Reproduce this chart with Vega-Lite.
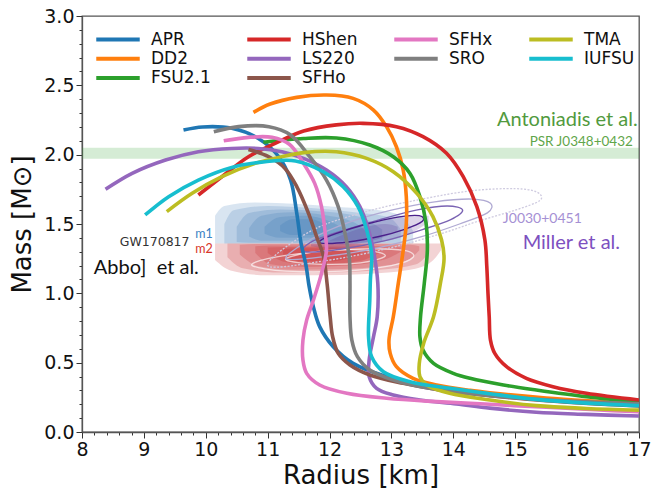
{
  "$schema": "https://vega.github.io/schema/vega-lite/v6.json",
  "width": 557,
  "height": 416,
  "autosize": {"type": "none"},
  "padding": {"left": 82, "top": 16, "right": 14, "bottom": 58},
  "background": "white",
  "datasets": {
    "eos": [
      {"e":"APR","i":0,"R":9.64,"M":2.178},{"e":"APR","i":1,"R":9.95,"M":2.2},{"e":"APR","i":2,"R":10.42,"M":2.19},{"e":"APR","i":3,"R":10.85,"M":2.117},{"e":"APR","i":4,"R":11.18,"M":1.985},{"e":"APR","i":5,"R":11.37,"M":1.817},{"e":"APR","i":6,"R":11.47,"M":1.577},{"e":"APR","i":7,"R":11.54,"M":1.36},{"e":"APR","i":8,"R":11.62,"M":1.2},{"e":"APR","i":9,"R":11.67,"M":1.05},{"e":"APR","i":10,"R":11.74,"M":0.9},{"e":"APR","i":11,"R":11.84,"M":0.76},{"e":"APR","i":12,"R":12.06,"M":0.615},{"e":"APR","i":13,"R":12.38,"M":0.495},{"e":"APR","i":14,"R":12.92,"M":0.399},{"e":"APR","i":15,"R":13.46,"M":0.339},{"e":"APR","i":16,"R":14.0,"M":0.303},{"e":"APR","i":17,"R":14.59,"M":0.267},{"e":"APR","i":18,"R":15.5,"M":0.235},{"e":"APR","i":19,"R":16.3,"M":0.212},{"e":"APR","i":20,"R":17.0,"M":0.196},
      {"e":"DD2","i":0,"R":10.77,"M":2.305},{"e":"DD2","i":1,"R":11.04,"M":2.365},{"e":"DD2","i":2,"R":11.47,"M":2.413},{"e":"DD2","i":3,"R":11.95,"M":2.43},{"e":"DD2","i":4,"R":12.38,"M":2.406},{"e":"DD2","i":5,"R":12.71,"M":2.322},{"e":"DD2","i":6,"R":12.92,"M":2.202},{"e":"DD2","i":7,"R":13.08,"M":2.057},{"e":"DD2","i":8,"R":13.19,"M":1.889},{"e":"DD2","i":9,"R":13.24,"M":1.697},{"e":"DD2","i":10,"R":13.24,"M":1.505},{"e":"DD2","i":11,"R":13.19,"M":1.31},{"e":"DD2","i":12,"R":13.11,"M":1.07},{"e":"DD2","i":13,"R":13.03,"M":0.831},{"e":"DD2","i":14,"R":12.96,"M":0.663},{"e":"DD2","i":15,"R":12.98,"M":0.567},{"e":"DD2","i":16,"R":13.08,"M":0.471},{"e":"DD2","i":17,"R":13.35,"M":0.387},{"e":"DD2","i":18,"R":13.73,"M":0.339},{"e":"DD2","i":19,"R":14.27,"M":0.3},{"e":"DD2","i":20,"R":14.59,"M":0.283},{"e":"DD2","i":21,"R":15.5,"M":0.245},{"e":"DD2","i":22,"R":16.3,"M":0.222},{"e":"DD2","i":23,"R":17.0,"M":0.205},
      {"e":"FSU2.1","i":0,"R":10.93,"M":2.09},{"e":"FSU2.1","i":1,"R":11.58,"M":2.117},{"e":"FSU2.1","i":2,"R":12.11,"M":2.12},{"e":"FSU2.1","i":3,"R":12.65,"M":2.07},{"e":"FSU2.1","i":4,"R":13.03,"M":1.985},{"e":"FSU2.1","i":5,"R":13.3,"M":1.865},{"e":"FSU2.1","i":6,"R":13.46,"M":1.697},{"e":"FSU2.1","i":7,"R":13.56,"M":1.505},{"e":"FSU2.1","i":8,"R":13.58,"M":1.31},{"e":"FSU2.1","i":9,"R":13.53,"M":1.07},{"e":"FSU2.1","i":10,"R":13.47,"M":0.831},{"e":"FSU2.1","i":11,"R":13.46,"M":0.687},{"e":"FSU2.1","i":12,"R":13.51,"M":0.591},{"e":"FSU2.1","i":13,"R":13.68,"M":0.495},{"e":"FSU2.1","i":14,"R":14.0,"M":0.423},{"e":"FSU2.1","i":15,"R":14.27,"M":0.387},{"e":"FSU2.1","i":16,"R":14.81,"M":0.339},{"e":"FSU2.1","i":17,"R":15.34,"M":0.303},{"e":"FSU2.1","i":18,"R":16.15,"M":0.255},{"e":"FSU2.1","i":19,"R":17.0,"M":0.219},
      {"e":"HShen","i":0,"R":9.88,"M":1.709},{"e":"HShen","i":1,"R":10.26,"M":1.841},{"e":"HShen","i":2,"R":10.69,"M":1.985},{"e":"HShen","i":3,"R":11.12,"M":2.081},{"e":"HShen","i":4,"R":11.58,"M":2.17},{"e":"HShen","i":5,"R":12.11,"M":2.215},{"e":"HShen","i":6,"R":12.54,"M":2.226},{"e":"HShen","i":7,"R":13.08,"M":2.202},{"e":"HShen","i":8,"R":13.51,"M":2.13},{"e":"HShen","i":9,"R":13.89,"M":2.01},{"e":"HShen","i":10,"R":14.16,"M":1.841},{"e":"HShen","i":11,"R":14.38,"M":1.625},{"e":"HShen","i":12,"R":14.51,"M":1.385},{"e":"HShen","i":13,"R":14.54,"M":1.2},{"e":"HShen","i":14,"R":14.56,"M":1.0},{"e":"HShen","i":15,"R":14.58,"M":0.831},{"e":"HShen","i":16,"R":14.6,"M":0.663},{"e":"HShen","i":17,"R":14.67,"M":0.567},{"e":"HShen","i":18,"R":14.86,"M":0.471},{"e":"HShen","i":19,"R":15.18,"M":0.387},{"e":"HShen","i":20,"R":15.61,"M":0.327},{"e":"HShen","i":21,"R":16.15,"M":0.279},{"e":"HShen","i":22,"R":17.0,"M":0.231},
      {"e":"LS220","i":0,"R":8.38,"M":1.75},{"e":"LS220","i":1,"R":8.81,"M":1.865},{"e":"LS220","i":2,"R":9.35,"M":1.961},{"e":"LS220","i":3,"R":9.88,"M":2.021},{"e":"LS220","i":4,"R":10.42,"M":2.045},{"e":"LS220","i":5,"R":10.85,"M":2.045},{"e":"LS220","i":6,"R":11.23,"M":2.021},{"e":"LS220","i":7,"R":11.58,"M":1.973},{"e":"LS220","i":8,"R":11.95,"M":1.889},{"e":"LS220","i":9,"R":12.27,"M":1.769},{"e":"LS220","i":10,"R":12.49,"M":1.625},{"e":"LS220","i":11,"R":12.63,"M":1.457},{"e":"LS220","i":12,"R":12.72,"M":1.28},{"e":"LS220","i":13,"R":12.78,"M":1.07},{"e":"LS220","i":14,"R":12.77,"M":0.831},{"e":"LS220","i":15,"R":12.71,"M":0.687},{"e":"LS220","i":16,"R":12.64,"M":0.519},{"e":"LS220","i":17,"R":12.64,"M":0.399},{"e":"LS220","i":18,"R":12.76,"M":0.315},{"e":"LS220","i":19,"R":13.03,"M":0.267},{"e":"LS220","i":20,"R":13.46,"M":0.231},{"e":"LS220","i":21,"R":14.05,"M":0.202},{"e":"LS220","i":22,"R":14.59,"M":0.172},{"e":"LS220","i":23,"R":15.34,"M":0.142},{"e":"LS220","i":24,"R":16.15,"M":0.127},{"e":"LS220","i":25,"R":17.0,"M":0.115},
      {"e":"SFHo","i":0,"R":10.69,"M":2.038},{"e":"SFHo","i":1,"R":11.02,"M":1.985},{"e":"SFHo","i":2,"R":11.28,"M":1.901},{"e":"SFHo","i":3,"R":11.47,"M":1.77},{"e":"SFHo","i":4,"R":11.66,"M":1.577},{"e":"SFHo","i":5,"R":11.79,"M":1.409},{"e":"SFHo","i":6,"R":11.9,"M":1.27},{"e":"SFHo","i":7,"R":11.96,"M":1.07},{"e":"SFHo","i":8,"R":12.01,"M":0.831},{"e":"SFHo","i":9,"R":12.05,"M":0.687},{"e":"SFHo","i":10,"R":12.14,"M":0.567},{"e":"SFHo","i":11,"R":12.33,"M":0.483},{"e":"SFHo","i":12,"R":12.65,"M":0.411},{"e":"SFHo","i":13,"R":13.19,"M":0.351},{"e":"SFHo","i":14,"R":13.73,"M":0.307},{"e":"SFHo","i":15,"R":14.59,"M":0.262},{"e":"SFHo","i":16,"R":15.5,"M":0.225},{"e":"SFHo","i":17,"R":16.3,"M":0.203},{"e":"SFHo","i":18,"R":17.0,"M":0.187},
      {"e":"SFHx","i":0,"R":10.29,"M":2.1},{"e":"SFHx","i":1,"R":10.69,"M":2.125},{"e":"SFHx","i":2,"R":11.07,"M":2.125},{"e":"SFHx","i":3,"R":11.35,"M":2.075},{"e":"SFHx","i":4,"R":11.58,"M":1.937},{"e":"SFHx","i":5,"R":11.76,"M":1.793},{"e":"SFHx","i":6,"R":11.87,"M":1.625},{"e":"SFHx","i":7,"R":11.93,"M":1.432},{"e":"SFHx","i":8,"R":11.95,"M":1.31},{"e":"SFHx","i":9,"R":11.87,"M":1.144},{"e":"SFHx","i":10,"R":11.74,"M":0.952},{"e":"SFHx","i":11,"R":11.63,"M":0.807},{"e":"SFHx","i":12,"R":11.57,"M":0.663},{"e":"SFHx","i":13,"R":11.57,"M":0.519},{"e":"SFHx","i":14,"R":11.63,"M":0.423},{"e":"SFHx","i":15,"R":11.84,"M":0.339},{"e":"SFHx","i":16,"R":12.28,"M":0.279},{"e":"SFHx","i":17,"R":12.92,"M":0.243},{"e":"SFHx","i":18,"R":13.73,"M":0.219},{"e":"SFHx","i":19,"R":14.59,"M":0.2},{"e":"SFHx","i":20,"R":15.5,"M":0.178},{"e":"SFHx","i":21,"R":16.3,"M":0.16},{"e":"SFHx","i":22,"R":17.0,"M":0.146},
      {"e":"SRO","i":0,"R":10.13,"M":2.165},{"e":"SRO","i":1,"R":10.53,"M":2.202},{"e":"SRO","i":2,"R":11.02,"M":2.202},{"e":"SRO","i":3,"R":11.36,"M":2.145},{"e":"SRO","i":4,"R":11.68,"M":1.985},{"e":"SRO","i":5,"R":11.95,"M":1.817},{"e":"SRO","i":6,"R":12.14,"M":1.625},{"e":"SRO","i":7,"R":12.25,"M":1.432},{"e":"SRO","i":8,"R":12.32,"M":1.25},{"e":"SRO","i":9,"R":12.33,"M":1.07},{"e":"SRO","i":10,"R":12.33,"M":0.831},{"e":"SRO","i":11,"R":12.36,"M":0.663},{"e":"SRO","i":12,"R":12.45,"M":0.543},{"e":"SRO","i":13,"R":12.65,"M":0.447},{"e":"SRO","i":14,"R":13.03,"M":0.375},{"e":"SRO","i":15,"R":13.62,"M":0.315},{"e":"SRO","i":16,"R":14.59,"M":0.262},{"e":"SRO","i":17,"R":15.5,"M":0.232},{"e":"SRO","i":18,"R":16.3,"M":0.215},{"e":"SRO","i":19,"R":17.0,"M":0.203},
      {"e":"TMA","i":0,"R":9.37,"M":1.589},{"e":"TMA","i":1,"R":9.78,"M":1.721},{"e":"TMA","i":2,"R":10.26,"M":1.841},{"e":"TMA","i":3,"R":10.8,"M":1.937},{"e":"TMA","i":4,"R":11.23,"M":1.985},{"e":"TMA","i":5,"R":11.58,"M":2.015},{"e":"TMA","i":6,"R":12.11,"M":2.021},{"e":"TMA","i":7,"R":12.6,"M":1.973},{"e":"TMA","i":8,"R":13.03,"M":1.877},{"e":"TMA","i":9,"R":13.41,"M":1.721},{"e":"TMA","i":10,"R":13.67,"M":1.553},{"e":"TMA","i":11,"R":13.81,"M":1.385},{"e":"TMA","i":12,"R":13.85,"M":1.25},{"e":"TMA","i":13,"R":13.79,"M":1.07},{"e":"TMA","i":14,"R":13.68,"M":0.831},{"e":"TMA","i":15,"R":13.52,"M":0.639},{"e":"TMA","i":16,"R":13.45,"M":0.495},{"e":"TMA","i":17,"R":13.46,"M":0.399},{"e":"TMA","i":18,"R":13.57,"M":0.339},{"e":"TMA","i":19,"R":13.94,"M":0.279},{"e":"TMA","i":20,"R":14.59,"M":0.231},{"e":"TMA","i":21,"R":15.34,"M":0.19},{"e":"TMA","i":22,"R":16.15,"M":0.17},{"e":"TMA","i":23,"R":17.0,"M":0.158},
      {"e":"IUFSU","i":0,"R":9.02,"M":1.565},{"e":"IUFSU","i":1,"R":9.4,"M":1.697},{"e":"IUFSU","i":2,"R":9.88,"M":1.817},{"e":"IUFSU","i":3,"R":10.42,"M":1.908},{"e":"IUFSU","i":4,"R":10.96,"M":1.949},{"e":"IUFSU","i":5,"R":11.45,"M":1.955},{"e":"IUFSU","i":6,"R":11.9,"M":1.877},{"e":"IUFSU","i":7,"R":12.22,"M":1.769},{"e":"IUFSU","i":8,"R":12.46,"M":1.625},{"e":"IUFSU","i":9,"R":12.6,"M":1.457},{"e":"IUFSU","i":10,"R":12.68,"M":1.28},{"e":"IUFSU","i":11,"R":12.66,"M":1.1},{"e":"IUFSU","i":12,"R":12.65,"M":0.95},{"e":"IUFSU","i":13,"R":12.63,"M":0.687},{"e":"IUFSU","i":14,"R":12.68,"M":0.543},{"e":"IUFSU","i":15,"R":12.87,"M":0.435},{"e":"IUFSU","i":16,"R":13.3,"M":0.363},{"e":"IUFSU","i":17,"R":13.95,"M":0.315},{"e":"IUFSU","i":18,"R":14.59,"M":0.276},{"e":"IUFSU","i":19,"R":15.34,"M":0.235},{"e":"IUFSU","i":20,"R":16.15,"M":0.208},{"e":"IUFSU","i":21,"R":17.0,"M":0.19}
    ],
    "blobs": [
      {"k":"m1","g":"b1","R":10.15,"lo":1.36,"hi":1.56},{"k":"m1","g":"b1","R":10.3,"lo":1.36,"hi":1.63},{"k":"m1","g":"b1","R":10.8,"lo":1.36,"hi":1.655},{"k":"m1","g":"b1","R":11.5,"lo":1.36,"hi":1.645},{"k":"m1","g":"b1","R":12.2,"lo":1.36,"hi":1.62},{"k":"m1","g":"b1","R":12.8,"lo":1.36,"hi":1.6},{"k":"m1","g":"b1","R":13.15,"lo":1.36,"hi":1.56},{"k":"m1","g":"b1","R":13.35,"lo":1.36,"hi":1.45},
      {"k":"m1","g":"b2","R":10.3,"lo":1.36,"hi":1.5},{"k":"m1","g":"b2","R":10.45,"lo":1.36,"hi":1.6},{"k":"m1","g":"b2","R":11.0,"lo":1.36,"hi":1.63},{"k":"m1","g":"b2","R":11.7,"lo":1.36,"hi":1.615},{"k":"m1","g":"b2","R":12.4,"lo":1.36,"hi":1.585},{"k":"m1","g":"b2","R":12.95,"lo":1.36,"hi":1.55},{"k":"m1","g":"b2","R":13.15,"lo":1.36,"hi":1.46},
      {"k":"m1","g":"b3","R":10.5,"lo":1.37,"hi":1.48},{"k":"m1","g":"b3","R":10.7,"lo":1.365,"hi":1.58},{"k":"m1","g":"b3","R":11.2,"lo":1.365,"hi":1.605},{"k":"m1","g":"b3","R":11.9,"lo":1.365,"hi":1.59},{"k":"m1","g":"b3","R":12.5,"lo":1.365,"hi":1.55},{"k":"m1","g":"b3","R":12.85,"lo":1.37,"hi":1.46},
      {"k":"m1","g":"b4","R":10.7,"lo":1.41,"hi":1.47},{"k":"m1","g":"b4","R":10.9,"lo":1.38,"hi":1.56},{"k":"m1","g":"b4","R":11.4,"lo":1.38,"hi":1.585},{"k":"m1","g":"b4","R":11.9,"lo":1.38,"hi":1.565},{"k":"m1","g":"b4","R":12.4,"lo":1.38,"hi":1.51},{"k":"m1","g":"b4","R":12.6,"lo":1.4,"hi":1.44},
      {"k":"m1","g":"b5","R":10.95,"lo":1.43,"hi":1.48},{"k":"m1","g":"b5","R":11.2,"lo":1.4,"hi":1.55},{"k":"m1","g":"b5","R":11.6,"lo":1.4,"hi":1.56},{"k":"m1","g":"b5","R":12.0,"lo":1.41,"hi":1.52},{"k":"m1","g":"b5","R":12.25,"lo":1.43,"hi":1.46},
      {"k":"m1","g":"b6","R":11.2,"lo":1.45,"hi":1.49},{"k":"m1","g":"b6","R":11.4,"lo":1.42,"hi":1.535},{"k":"m1","g":"b6","R":11.7,"lo":1.42,"hi":1.535},{"k":"m1","g":"b6","R":11.95,"lo":1.44,"hi":1.49},
      {"k":"m2","g":"r1","R":10.15,"lo":1.24,"hi":1.36},{"k":"m2","g":"r1","R":10.4,"lo":1.165,"hi":1.36},{"k":"m2","g":"r1","R":11.0,"lo":1.13,"hi":1.36},{"k":"m2","g":"r1","R":11.8,"lo":1.13,"hi":1.36},{"k":"m2","g":"r1","R":12.6,"lo":1.14,"hi":1.36},{"k":"m2","g":"r1","R":13.3,"lo":1.17,"hi":1.36},{"k":"m2","g":"r1","R":13.65,"lo":1.23,"hi":1.36},{"k":"m2","g":"r1","R":13.8,"lo":1.31,"hi":1.36},
      {"k":"m2","g":"r2","R":10.35,"lo":1.26,"hi":1.36},{"k":"m2","g":"r2","R":10.6,"lo":1.18,"hi":1.36},{"k":"m2","g":"r2","R":11.2,"lo":1.15,"hi":1.36},{"k":"m2","g":"r2","R":12.0,"lo":1.15,"hi":1.36},{"k":"m2","g":"r2","R":12.8,"lo":1.17,"hi":1.36},{"k":"m2","g":"r2","R":13.4,"lo":1.21,"hi":1.36},{"k":"m2","g":"r2","R":13.6,"lo":1.29,"hi":1.36},
      {"k":"m2","g":"r3","R":10.55,"lo":1.28,"hi":1.35},{"k":"m2","g":"r3","R":10.85,"lo":1.195,"hi":1.355},{"k":"m2","g":"r3","R":11.4,"lo":1.17,"hi":1.355},{"k":"m2","g":"r3","R":12.2,"lo":1.175,"hi":1.355},{"k":"m2","g":"r3","R":12.9,"lo":1.2,"hi":1.355},{"k":"m2","g":"r3","R":13.3,"lo":1.25,"hi":1.35},{"k":"m2","g":"r3","R":13.45,"lo":1.31,"hi":1.34},
      {"k":"m2","g":"r4","R":10.8,"lo":1.29,"hi":1.34},{"k":"m2","g":"r4","R":11.05,"lo":1.21,"hi":1.345},{"k":"m2","g":"r4","R":11.6,"lo":1.19,"hi":1.345},{"k":"m2","g":"r4","R":12.3,"lo":1.2,"hi":1.345},{"k":"m2","g":"r4","R":12.9,"lo":1.245,"hi":1.34},{"k":"m2","g":"r4","R":13.15,"lo":1.3,"hi":1.33},
      {"k":"m2","g":"r5","R":11.0,"lo":1.29,"hi":1.33},{"k":"m2","g":"r5","R":11.3,"lo":1.225,"hi":1.335},{"k":"m2","g":"r5","R":11.9,"lo":1.21,"hi":1.335},{"k":"m2","g":"r5","R":12.5,"lo":1.235,"hi":1.33},{"k":"m2","g":"r5","R":12.8,"lo":1.29,"hi":1.32},
      {"k":"m2","g":"r6","R":11.25,"lo":1.28,"hi":1.32},{"k":"m2","g":"r6","R":11.5,"lo":1.235,"hi":1.325},{"k":"m2","g":"r6","R":12.0,"lo":1.23,"hi":1.325},{"k":"m2","g":"r6","R":12.35,"lo":1.26,"hi":1.315},{"k":"m2","g":"r6","R":12.5,"lo":1.29,"hi":1.31},
      {"k":"nicer","g":"p1","R":11.7,"lo":1.34,"hi":1.36},{"k":"nicer","g":"p1","R":12.1,"lo":1.32,"hi":1.43},{"k":"nicer","g":"p1","R":12.7,"lo":1.36,"hi":1.51},{"k":"nicer","g":"p1","R":13.3,"lo":1.43,"hi":1.56},{"k":"nicer","g":"p1","R":13.6,"lo":1.51,"hi":1.56},
      {"k":"nicer","g":"p2","R":11.95,"lo":1.36,"hi":1.37},{"k":"nicer","g":"p2","R":12.25,"lo":1.35,"hi":1.43},{"k":"nicer","g":"p2","R":12.6,"lo":1.37,"hi":1.48},{"k":"nicer","g":"p2","R":12.9,"lo":1.41,"hi":1.5},{"k":"nicer","g":"p2","R":13.1,"lo":1.45,"hi":1.48}
    ],
    "contours": [
      {"c":"J1","i":0,"R":11.9,"M":1.36},{"c":"J1","i":1,"R":12.3,"M":1.37},{"c":"J1","i":2,"R":12.8,"M":1.41},{"c":"J1","i":3,"R":13.2,"M":1.46},{"c":"J1","i":4,"R":13.5,"M":1.52},{"c":"J1","i":5,"R":13.45,"M":1.56},{"c":"J1","i":6,"R":13.1,"M":1.55},{"c":"J1","i":7,"R":12.6,"M":1.5},{"c":"J1","i":8,"R":12.1,"M":1.43},{"c":"J1","i":9,"R":11.85,"M":1.38},
      {"c":"J2","i":0,"R":11.6,"M":1.3},{"c":"J2","i":1,"R":12.2,"M":1.32},{"c":"J2","i":2,"R":12.9,"M":1.38},{"c":"J2","i":3,"R":13.5,"M":1.46},{"c":"J2","i":4,"R":13.95,"M":1.53},{"c":"J2","i":5,"R":14.15,"M":1.6},{"c":"J2","i":6,"R":13.9,"M":1.63},{"c":"J2","i":7,"R":13.4,"M":1.6},{"c":"J2","i":8,"R":12.8,"M":1.53},{"c":"J2","i":9,"R":12.2,"M":1.45},{"c":"J2","i":10,"R":11.7,"M":1.37},
      {"c":"J3","i":0,"R":11.3,"M":1.25},{"c":"J3","i":1,"R":12.0,"M":1.27},{"c":"J3","i":2,"R":12.8,"M":1.33},{"c":"J3","i":3,"R":13.5,"M":1.41},{"c":"J3","i":4,"R":14.1,"M":1.5},{"c":"J3","i":5,"R":14.55,"M":1.58},{"c":"J3","i":6,"R":14.6,"M":1.65},{"c":"J3","i":7,"R":14.3,"M":1.68},{"c":"J3","i":8,"R":13.7,"M":1.66},{"c":"J3","i":9,"R":13.0,"M":1.6},{"c":"J3","i":10,"R":12.3,"M":1.51},{"c":"J3","i":11,"R":11.7,"M":1.39},
      {"c":"J4","i":0,"R":11.0,"M":1.2},{"c":"J4","i":1,"R":12.0,"M":1.24},{"c":"J4","i":2,"R":13.0,"M":1.33},{"c":"J4","i":3,"R":13.8,"M":1.43},{"c":"J4","i":4,"R":14.4,"M":1.52},{"c":"J4","i":5,"R":15.0,"M":1.6},{"c":"J4","i":6,"R":15.4,"M":1.67},{"c":"J4","i":7,"R":15.35,"M":1.73},{"c":"J4","i":8,"R":15.0,"M":1.755},{"c":"J4","i":9,"R":14.3,"M":1.74},{"c":"J4","i":10,"R":13.5,"M":1.68},{"c":"J4","i":11,"R":12.6,"M":1.59},{"c":"J4","i":12,"R":11.7,"M":1.45},
      {"c":"W1","i":0,"R":10.75,"M":1.2},{"c":"W1","i":1,"R":11.3,"M":1.16},{"c":"W1","i":2,"R":12.2,"M":1.16},{"c":"W1","i":3,"R":13.0,"M":1.2},{"c":"W1","i":4,"R":13.35,"M":1.26},{"c":"W1","i":5,"R":13.2,"M":1.31},{"c":"W1","i":6,"R":12.5,"M":1.32},{"c":"W1","i":7,"R":11.6,"M":1.29},{"c":"W1","i":8,"R":11.0,"M":1.25},
      {"c":"W2","i":0,"R":11.3,"M":1.24},{"c":"W2","i":1,"R":11.8,"M":1.21},{"c":"W2","i":2,"R":12.5,"M":1.22},{"c":"W2","i":3,"R":12.9,"M":1.27},{"c":"W2","i":4,"R":12.6,"M":1.31},{"c":"W2","i":5,"R":12.0,"M":1.31},{"c":"W2","i":6,"R":11.5,"M":1.28}
    ]
  },
  "resolve": {"axis": {"x": "independent", "y": "independent"}},
  "layer": [
    {
      "data": {"values": [{"lo": 1.97, "hi": 2.05}]},
      "mark": {"type": "rect", "color": "#2ca02c", "opacity": 0.2},
      "encoding": {
        "y": {"field": "lo", "type": "quantitative", "scale": {"domain": [0, 3], "nice": false}, "axis": null},
        "y2": {"field": "hi"}
      }
    },
    {
      "data": {"name": "blobs"},
      "transform": [{"filter": "datum.k === 'm1'"}],
      "mark": {"type": "area", "color": "#2c6fb0", "interpolate": "monotone"},
      "encoding": {
        "x": {
          "field": "R", "type": "quantitative", "scale": {"domain": [8, 17], "nice": false},
          "axis": {
            "orient": "bottom", "title": null, "labels": false, "domain": false, "tickSize": 3,
            "values": [8.2, 8.4, 8.6, 8.8, 9.2, 9.4, 9.6, 9.8, 10.2, 10.4, 10.6, 10.8, 11.2, 11.4, 11.6, 11.8, 12.2, 12.4, 12.6, 12.8, 13.2, 13.4, 13.6, 13.8, 14.2, 14.4, 14.6, 14.8, 15.2, 15.4, 15.6, 15.8, 16.2, 16.4, 16.6, 16.8]
          }
        },
        "y": {
          "field": "hi", "type": "quantitative",
          "axis": {
            "orient": "left", "title": null, "labels": false, "domain": false, "tickSize": 3,
            "values": [0.1, 0.2, 0.3, 0.4, 0.6, 0.7, 0.8, 0.9, 1.1, 1.2, 1.3, 1.4, 1.6, 1.7, 1.8, 1.9, 2.1, 2.2, 2.3, 2.4, 2.6, 2.7, 2.8, 2.9]
          }
        },
        "y2": {"field": "lo"},
        "detail": {"field": "g"},
        "opacity": {
          "field": "g", "type": "nominal", "legend": null,
          "scale": {
            "domain": ["b1", "b2", "b3", "b4", "b5", "b6", "r1", "r2", "r3", "r4", "r5", "r6", "p1", "p2"],
            "range": [0.18, 0.2, 0.25, 0.3, 0.35, 0.4, 0.18, 0.2, 0.25, 0.3, 0.35, 0.4, 0.3, 0.45]
          }
        }
      }
    },
    {
      "data": {"name": "blobs"},
      "transform": [{"filter": "datum.k === 'm2'"}],
      "mark": {"type": "area", "color": "#c0161c", "interpolate": "monotone"},
      "encoding": {
        "x": {"field": "R", "type": "quantitative", "axis": null},
        "y": {"field": "hi", "type": "quantitative", "axis": null},
        "y2": {"field": "lo"},
        "detail": {"field": "g"},
        "opacity": {"field": "g", "type": "nominal", "legend": null}
      }
    },
    {
      "data": {"name": "blobs"},
      "transform": [{"filter": "datum.k === 'nicer'"}],
      "mark": {"type": "area", "color": "#54278f", "interpolate": "monotone"},
      "encoding": {
        "x": {"field": "R", "type": "quantitative", "axis": null},
        "y": {"field": "hi", "type": "quantitative", "axis": null},
        "y2": {"field": "lo"},
        "detail": {"field": "g"},
        "opacity": {"field": "g", "type": "nominal", "legend": null}
      }
    },
    {
      "data": {"name": "contours"},
      "transform": [{"filter": "datum.c === 'W1' || datum.c === 'W2'"}],
      "mark": {"type": "line", "color": "#ffffff", "opacity": 0.65, "strokeWidth": 1.3, "interpolate": "cardinal-closed"},
      "encoding": {
        "x": {"field": "R", "type": "quantitative", "axis": null},
        "y": {"field": "M", "type": "quantitative", "axis": null},
        "detail": {"field": "c"},
        "order": {"field": "i"}
      }
    },
    {
      "data": {"name": "contours"},
      "transform": [{"filter": "datum.c === 'J4'"}],
      "mark": {"type": "line", "color": "#cfcbe0", "strokeWidth": 1.3, "strokeDash": [2, 1.5], "interpolate": "cardinal-closed"},
      "encoding": {
        "x": {"field": "R", "type": "quantitative", "axis": null},
        "y": {"field": "M", "type": "quantitative", "axis": null},
        "order": {"field": "i"}
      }
    },
    {
      "data": {"name": "contours"},
      "transform": [{"filter": "datum.c === 'J3'"}],
      "mark": {"type": "line", "color": "#b0aad3", "strokeWidth": 1.3, "interpolate": "cardinal-closed"},
      "encoding": {
        "x": {"field": "R", "type": "quantitative", "axis": null},
        "y": {"field": "M", "type": "quantitative", "axis": null},
        "order": {"field": "i"}
      }
    },
    {
      "data": {"name": "contours"},
      "transform": [{"filter": "datum.c === 'J2'"}],
      "mark": {"type": "line", "color": "#7a63b3", "strokeWidth": 1.4, "interpolate": "cardinal-closed"},
      "encoding": {
        "x": {"field": "R", "type": "quantitative", "axis": null},
        "y": {"field": "M", "type": "quantitative", "axis": null},
        "order": {"field": "i"}
      }
    },
    {
      "data": {"name": "contours"},
      "transform": [{"filter": "datum.c === 'J1'"}],
      "mark": {"type": "line", "color": "#4a1f8a", "strokeWidth": 1.4, "interpolate": "cardinal-closed"},
      "encoding": {
        "x": {"field": "R", "type": "quantitative", "axis": null},
        "y": {"field": "M", "type": "quantitative", "axis": null},
        "order": {"field": "i"}
      }
    },
    {
      "data": {"name": "eos"},
      "mark": {"type": "line", "strokeWidth": 3.6, "interpolate": "catmull-rom", "clip": true},
      "encoding": {
        "x": {
          "field": "R", "type": "quantitative",
          "scale": {"domain": [8, 17], "nice": false},
          "axis": {
            "orient": "bottom",
            "title": "Radius [km]",
            "values": [8, 9, 10, 11, 12, 13, 14, 15, 16, 17],
            "format": "d",
            "tickSize": 6,
            "labelFlush": false,
            "labelPadding": 2,
            "titlePadding": 3
          }
        },
        "y": {
          "field": "M", "type": "quantitative",
          "scale": {"domain": [0, 3], "nice": false},
          "axis": {
            "orient": "left",
            "title": "Mass [M⊙]",
            "values": [0, 0.5, 1, 1.5, 2, 2.5, 3],
            "format": ".1f",
            "tickSize": 6,
            "labelPadding": 2,
            "titlePadding": 8
          }
        },
        "color": {
          "field": "e", "type": "nominal",
          "scale": {
            "domain": ["APR", "HShen", "SFHx", "TMA", "DD2", "LS220", "SRO", "IUFSU", "FSU2.1", "SFHo"],
            "range": ["#1f77b4", "#d62728", "#e377c2", "#bcbd22", "#ff7f0e", "#9467bd", "#7f7f7f", "#17becf", "#2ca02c", "#8c564b"]
          },
          "legend": {
            "title": null,
            "orient": "none",
            "legendX": 12,
            "legendY": 15,
            "columns": 4,
            "direction": "horizontal",
            "symbolType": "stroke",
            "symbolSize": 1890,
            "symbolStrokeWidth": 4,
            "labelFont": "DejaVu Sans",
            "labelFontSize": 17,
            "labelColor": "#111111",
            "labelOffset": 9,
            "columnPadding": 34,
            "rowPadding": 1.3,
            "clipHeight": 17,
            "padding": 0
          }
        },
        "order": {"field": "i"}
      }
    },
    {
      "data": {"values": [{"t": "Antoniadis et al.", "R": 16.98, "M": 2.25}]},
      "mark": {"type": "text", "align": "right", "baseline": "middle", "font": "Lato", "fontSize": 20, "color": "#529a3e"},
      "encoding": {"x": {"field": "R", "type": "quantitative", "axis": null}, "y": {"field": "M", "type": "quantitative", "axis": null}, "text": {"field": "t"}}
    },
    {
      "data": {"values": [{"t": "PSR J0348+0432", "R": 16.9, "M": 2.093}]},
      "mark": {"type": "text", "align": "right", "baseline": "middle", "font": "Lato", "fontSize": 13.5, "color": "#5fa64a"},
      "encoding": {"x": {"field": "R", "type": "quantitative", "axis": null}, "y": {"field": "M", "type": "quantitative", "axis": null}, "text": {"field": "t"}}
    },
    {
      "data": {"values": [{"t": "J0030+0451", "R": 14.8, "M": 1.533}]},
      "mark": {"type": "text", "align": "left", "baseline": "middle", "font": "Lato", "fontSize": 14, "color": "#a590d4"},
      "encoding": {"x": {"field": "R", "type": "quantitative", "axis": null}, "y": {"field": "M", "type": "quantitative", "axis": null}, "text": {"field": "t"}}
    },
    {
      "data": {"values": [{"t": "Miller et al.", "R": 15.12, "M": 1.365}]},
      "mark": {"type": "text", "align": "left", "baseline": "middle", "font": "Lato", "fontSize": 20, "color": "#7d50c0"},
      "encoding": {"x": {"field": "R", "type": "quantitative", "axis": null}, "y": {"field": "M", "type": "quantitative", "axis": null}, "text": {"field": "t"}}
    },
    {
      "data": {"values": [{"t": "GW170817", "R": 8.61, "M": 1.372}]},
      "mark": {"type": "text", "align": "left", "baseline": "middle", "font": "DejaVu Sans", "fontSize": 12.5, "color": "#333333"},
      "encoding": {"x": {"field": "R", "type": "quantitative", "axis": null}, "y": {"field": "M", "type": "quantitative", "axis": null}, "text": {"field": "t"}}
    },
    {
      "data": {"values": [{"t": "m1", "R": 9.83, "M": 1.427}]},
      "mark": {"type": "text", "align": "left", "baseline": "middle", "font": "Lato", "fontSize": 12.5, "color": "#3b82c4"},
      "encoding": {"x": {"field": "R", "type": "quantitative", "axis": null}, "y": {"field": "M", "type": "quantitative", "axis": null}, "text": {"field": "t"}}
    },
    {
      "data": {"values": [{"t": "m2", "R": 9.83, "M": 1.317}]},
      "mark": {"type": "text", "align": "left", "baseline": "middle", "font": "Lato", "fontSize": 12.5, "color": "#d8352a"},
      "encoding": {"x": {"field": "R", "type": "quantitative", "axis": null}, "y": {"field": "M", "type": "quantitative", "axis": null}, "text": {"field": "t"}}
    },
    {
      "data": {"values": [{"t": "Abbo]\u00a0\u00a0et al.", "R": 8.19, "M": 1.18}]},
      "mark": {"type": "text", "align": "left", "baseline": "middle", "font": "Lato", "fontSize": 20, "color": "#111111"},
      "encoding": {"x": {"field": "R", "type": "quantitative", "axis": null}, "y": {"field": "M", "type": "quantitative", "axis": null}, "text": {"field": "t"}}
    }
  ],
  "config": {
    "view": {"stroke": "#555555", "strokeWidth": 1.3},
    "axis": {
      "grid": false,
      "labelOverlap": false,
      "domainColor": "#555555",
      "domainWidth": 1.3,
      "tickColor": "#333333",
      "tickWidth": 1,
      "labelFont": "DejaVu Sans",
      "labelFontSize": 19,
      "labelColor": "#111111",
      "titleFont": "DejaVu Sans",
      "titleFontSize": 26,
      "titleFontWeight": "normal",
      "titleColor": "#111111"
    }
  }
}
